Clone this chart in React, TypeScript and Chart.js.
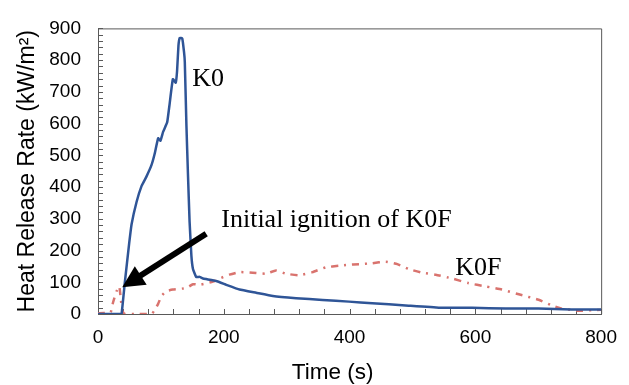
import { useEffect, useRef } from "react";
import { Chart, registerables } from "chart.js";

Chart.register(...registerables);

// ---- Data ----
const k0Time = [0, 20, 35, 37.5, 42.8, 49.6, 53.4, 61.3, 69.2, 77, 85, 90, 95.6, 99.3, 103.5, 110, 114, 119, 123.6, 125.7, 127.9, 130, 134, 136.8, 138, 140.6, 143, 145.6, 148.5, 151, 156, 161.6, 167, 172, 188, 204, 225, 251.5, 278, 315, 357, 399, 436, 489, 542, 595, 648, 700, 753, 800];
const k0Hrr = [0, 0, 0, 0, 102, 223, 283, 353, 403, 433, 469, 504, 554, 546, 574, 604, 664, 740, 729, 765, 845, 870, 868, 825, 795, 594, 443, 292, 183, 142, 117, 117, 112, 110, 104, 92, 77, 67, 57, 50, 44, 39, 34, 27, 20, 20, 17, 17, 14, 14];

const k0fTime = [0, 10, 20, 24, 29.6, 33.8, 36, 38.5, 42, 60, 85, 90, 95.6, 101, 108.8, 119, 140.6, 151, 161.6, 182.7, 196, 209, 225, 246, 267, 283, 299, 320, 341, 362, 383.5, 397, 415, 436, 457.5, 476, 494, 515.5, 537, 563, 589.5, 616, 642, 669, 700.5, 721.6, 737.4, 764, 785, 800];
const k0fHrr = [2, 3, 5, 37, 72, 87, 52, 12, 0, 0, 0, 12, 32, 57, 72, 77, 82, 94, 92, 102, 114, 124, 132, 130, 127, 137, 127, 122, 132, 147, 152, 155, 157, 160, 165, 157, 142, 130, 124, 112, 97, 87, 77, 62, 45, 27, 17, 10, 12, 13];

const xMin = 0;
const xMax = 800;
const xLabelStep = 200;
const xMinorStep = 40;
const yMin = 0;
const yMax = 900;
const yLabelStep = 100;
const yMinorStep = 20;

const k0Label = { text: "K0", t: 150, v: 719 };
const k0fLabel = { text: "K0F", t: 568, v: 122 };
const noteLabel = { text: "Initial ignition of K0F", t: 196, v: 273 };
const arrowTail = { t: 172, v: 253 };
const arrowTip = { t: 38.5, v: 84 };

const xTitle = "Time (s)";
const yTitle = "Heat Release Rate (kW/m²)";

const AXIS_COLOR = "#595959";
const BLUE = "#2F5597";
const RED = "#D9736E";

const decorPlugin = {
  id: "decor",
  beforeDatasetsDraw(chart: any) {
    const { ctx, chartArea } = chart;
    const xs = chart.scales.x;
    const ys = chart.scales.y;
    ctx.save();
    ctx.strokeStyle = AXIS_COLOR;
    ctx.lineWidth = 1;
    // top and right frame
    ctx.beginPath();
    ctx.moveTo(chartArea.left, chartArea.top + 0.5);
    ctx.lineTo(chartArea.right + 0.5, chartArea.top + 0.5);
    ctx.lineTo(chartArea.right + 0.5, chartArea.bottom);
    ctx.stroke();
    // inside minor ticks
    ctx.beginPath();
    for (let v = yMin; v <= yMax; v += yMinorStep) {
      const py = Math.round(ys.getPixelForValue(v)) + 0.5;
      ctx.moveTo(chartArea.left, py);
      ctx.lineTo(chartArea.left + 5, py);
    }
    for (let t = xMin; t <= xMax; t += xMinorStep) {
      const px = Math.round(xs.getPixelForValue(t)) + 0.5;
      ctx.moveTo(px, chartArea.bottom);
      ctx.lineTo(px, chartArea.bottom - 5);
    }
    ctx.stroke();
    ctx.restore();
  },
  afterDatasetsDraw(chart: any) {
    const { ctx, chartArea } = chart;
    const xs = chart.scales.x;
    const ys = chart.scales.y;
    ctx.save();
    // arrow
    const x1 = xs.getPixelForValue(arrowTail.t);
    const y1 = ys.getPixelForValue(arrowTail.v);
    const x2 = xs.getPixelForValue(arrowTip.t);
    const y2 = ys.getPixelForValue(arrowTip.v);
    const ang = Math.atan2(y2 - y1, x2 - x1);
    const headLen = 22;
    const headHalf = 11;
    const bx = x2 - headLen * Math.cos(ang);
    const by = y2 - headLen * Math.sin(ang);
    ctx.strokeStyle = "#000";
    ctx.fillStyle = "#000";
    ctx.lineWidth = 6;
    ctx.beginPath();
    ctx.moveTo(x1, y1);
    ctx.lineTo(bx + 2 * Math.cos(ang), by + 2 * Math.sin(ang));
    ctx.stroke();
    ctx.beginPath();
    ctx.moveTo(x2, y2);
    ctx.lineTo(bx + headHalf * Math.sin(ang), by - headHalf * Math.cos(ang));
    ctx.lineTo(bx - headHalf * Math.sin(ang), by + headHalf * Math.cos(ang));
    ctx.closePath();
    ctx.fill();
    // serif labels
    ctx.font = '26px "Liberation Serif", "Times New Roman", serif';
    ctx.textAlign = "left";
    ctx.textBaseline = "alphabetic";
    for (const l of [k0Label, k0fLabel, noteLabel]) {
      ctx.fillText(l.text, xs.getPixelForValue(l.t), ys.getPixelForValue(l.v));
    }
    // x axis title
    ctx.font = '22.5px "Liberation Sans", Arial, sans-serif';
    ctx.textAlign = "center";
    ctx.textBaseline = "middle";
    ctx.fillText(xTitle, (chartArea.left + chartArea.right) / 2 - 17, 373);
    ctx.restore();
  },
};

export default function App() {
  const ref = useRef<HTMLCanvasElement>(null);

  useEffect(() => {
    document.body.style.margin = "0";
    const canvas = ref.current;
    if (!canvas) return;
    const chart = new Chart(canvas, {
      type: "line",
      data: {
        datasets: [
          {
            label: "K0",
            data: k0Time.map((t, i) => ({ x: t, y: k0Hrr[i] })),
            borderColor: BLUE,
            borderWidth: 2.5,
            pointRadius: 0,
            tension: 0.1,
            fill: false,
          },
          {
            label: "K0F",
            data: k0fTime.map((t, i) => ({ x: t, y: k0fHrr[i] })),
            borderColor: RED,
            borderWidth: 2.5,
            borderDash: [7, 6, 2, 6],
            pointRadius: 0,
            tension: 0.15,
            fill: false,
          },
        ],
      },
      options: {
        responsive: false,
        animation: false,
        layout: { padding: { left: 0, top: 15, right: 26, bottom: 0 } },
        plugins: {
          legend: { display: false },
          tooltip: { enabled: false },
        },
        scales: {
          x: {
            type: "linear",
            min: xMin,
            max: xMax,
            grid: { display: false, drawTicks: false },
            border: { display: true, color: AXIS_COLOR, width: 1 },
            ticks: {
              stepSize: xLabelStep,
              padding: 12,
              color: "#000",
              maxRotation: 0,
              font: { family: '"Liberation Sans", Arial, sans-serif', size: 19 },
            },
            afterFit: (s: any) => {
              s.height = 71;
            },
          },
          y: {
            type: "linear",
            min: yMin,
            max: yMax,
            grid: { display: false, drawTicks: false },
            border: { display: true, color: AXIS_COLOR, width: 1 },
            ticks: {
              stepSize: yLabelStep,
              padding: 17,
              color: "#000",
              font: { family: '"Liberation Sans", Arial, sans-serif', size: 19 },
            },
            title: {
              display: true,
              text: yTitle,
              color: "#000",
              font: { family: '"Liberation Sans", Arial, sans-serif', size: 23 },
              padding: { top: 14, bottom: 0 },
            },
            afterFit: (s: any) => {
              s.width = 98;
            },
          },
        },
      },
      plugins: [decorPlugin],
    });
    return () => chart.destroy();
  }, []);

  return (
    <div style={{ width: 629, height: 385 }}>
      <canvas ref={ref} width={629} height={385} />
    </div>
  );
}
